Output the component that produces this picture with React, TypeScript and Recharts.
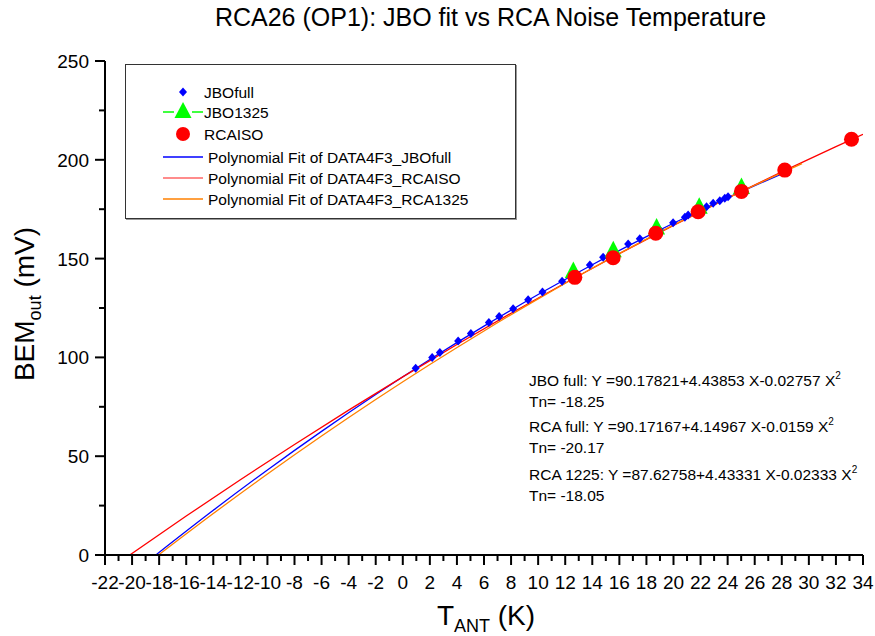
import React from "react";
import { ComposedChart, Scatter, Line, XAxis, YAxis } from "recharts";

const FONT = "Arial, 'Liberation Sans', Helvetica, sans-serif";

// measured points
const jboFull = [
  { x: 0.95, y: 94.5 },
  { x: 2.17, y: 99.9 },
  { x: 2.74, y: 102.5 },
  { x: 4.09, y: 108.3 },
  { x: 5.03, y: 112.1 },
  { x: 6.36, y: 117.7 },
  { x: 7.12, y: 120.7 },
  { x: 8.15, y: 124.6 },
  { x: 9.26, y: 129.2 },
  { x: 10.32, y: 133.1 },
  { x: 11.77, y: 138.5 },
  { x: 12.7, y: 142.3 },
  { x: 13.82, y: 146.8 },
  { x: 14.8, y: 150.7 },
  { x: 16.65, y: 157.4 },
  { x: 17.51, y: 160.1 },
  { x: 18.99, y: 164.5 },
  { x: 19.97, y: 168.2 },
  { x: 20.84, y: 170.9 },
  { x: 21.08, y: 172.1 },
  { x: 22.44, y: 176.3 },
  { x: 22.93, y: 178.0 },
  { x: 23.42, y: 179.3 },
  { x: 23.79, y: 180.5 },
  { x: 24.03, y: 181.3 },
];

const jbo1325 = [
  { x: 12.6, y: 143.5 },
  { x: 15.55, y: 154.0 },
  { x: 18.75, y: 165.5 },
  { x: 21.9, y: 176.0 },
  { x: 25.02, y: 186.0 },
];

const rcaIso = [
  { x: 12.71, y: 140.5 },
  { x: 15.54, y: 150.4 },
  { x: 18.69, y: 162.8 },
  { x: 21.82, y: 173.7 },
  { x: 25.02, y: 184.0 },
  { x: 28.22, y: 194.8 },
  { x: 33.15, y: 210.4 },
];

// polynomial fit curves
const fitJboFull = [
  { x: -18.25, y: 0 },
  { x: -14, y: 22.64 },
  { x: -10, y: 43.04 },
  { x: -6, y: 62.55 },
  { x: -2, y: 81.19 },
  { x: 2, y: 98.94 },
  { x: 6, y: 115.82 },
  { x: 10, y: 131.81 },
  { x: 14, y: 146.91 },
  { x: 18, y: 161.14 },
  { x: 22, y: 174.48 },
  { x: 26, y: 186.94 },
  { x: 28.3, y: 193.71 },
];

const fitRcaIso = [
  { x: -20.17, y: 0 },
  { x: -16, y: 19.71 },
  { x: -12, y: 38.09 },
  { x: -8, y: 55.96 },
  { x: -4, y: 73.32 },
  { x: 0, y: 90.17 },
  { x: 4, y: 106.52 },
  { x: 8, y: 122.35 },
  { x: 12, y: 137.68 },
  { x: 16, y: 152.5 },
  { x: 20, y: 166.8 },
  { x: 24, y: 180.61 },
  { x: 28, y: 193.9 },
  { x: 32, y: 206.68 },
  { x: 34, y: 212.88 },
];

const fitRca1325 = [
  { x: -18.05, y: 0 },
  { x: -14, y: 20.99 },
  { x: -10, y: 40.96 },
  { x: -6, y: 60.19 },
  { x: -2, y: 78.67 },
  { x: 2, y: 96.4 },
  { x: 6, y: 113.39 },
  { x: 10, y: 129.63 },
  { x: 14, y: 145.12 },
  { x: 18, y: 159.87 },
  { x: 22, y: 173.87 },
  { x: 26, y: 187.12 },
  { x: 29.5, y: 198.1 },
];

const xMajorTicks = [-22, -20, -18, -16, -14, -12, -10, -8, -6, -4, -2, 0, 2, 4, 6, 8, 10, 12, 14, 16, 18, 20, 22, 24, 26, 28, 30, 32, 34];
const yMajorTicks = [0, 50, 100, 150, 200, 250];
const xTicks = xMajorTicks.flatMap((v) => (v < 34 ? [v, v + 1] : [v]));
const yTicks = yMajorTicks.flatMap((v) => (v < 250 ? [v, v + 25] : [v]));

const fitLines = [
  "JBO full: Y =90.17821+4.43853 X-0.02757 X",
  "Tn= -18.25",
  "RCA full: Y =90.17167+4.14967 X-0.0159 X",
  "Tn= -20.17",
  "RCA 1225: Y =87.62758+4.43331 X-0.02333 X",
  "Tn= -18.05",
];

const BLUE = "#0000ff";
const GREEN = "#00ff00";
const RED = "#ff0000";
const ORANGE = "#ff8000";

const XTick = (props: any) => {
  const { x, y, payload } = props;
  const v = payload.value;
  const major = v % 2 === 0;
  return (
    <g>
      <line x1={x} x2={x} y1={y} y2={y + (major ? 10 : 6)} stroke="#000" strokeWidth={2} />
      {major && (
        <text x={x} y={y + 34} textAnchor="middle" fontSize={19} fontFamily={FONT} fill="#000">
          {v}
        </text>
      )}
    </g>
  );
};

const YTick = (props: any) => {
  const { x, y, payload } = props;
  const v = payload.value;
  const major = v % 50 === 0;
  return (
    <g>
      <line x1={x} x2={x - (major ? 10 : 6)} y1={y} y2={y} stroke="#000" strokeWidth={2} />
      {major && (
        <text x={x - 16} y={y + 7} textAnchor="end" fontSize={19} fontFamily={FONT} fill="#000">
          {v}
        </text>
      )}
    </g>
  );
};

const Diamond = (p: any) => (
  <polygon
    points={`${p.cx},${p.cy - 4.5} ${p.cx + 4},${p.cy} ${p.cx},${p.cy + 4.5} ${p.cx - 4},${p.cy}`}
    fill={BLUE}
  />
);
const Triangle = (p: any) => (
  <polygon
    points={`${p.cx},${p.cy - 10} ${p.cx - 8.5},${p.cy + 6.5} ${p.cx + 8.5},${p.cy + 6.5}`}
    fill={GREEN}
  />
);
const Dot = (p: any) => <circle cx={p.cx} cy={p.cy} r={7.5} fill={RED} />;

function LegendBox() {
  const rows = [
    { label: "JBOfull", y: 27 },
    { label: "JBO1325", y: 47 },
    { label: "RCAISO", y: 69 },
    { label: "Polynomial Fit of DATA4F3_JBOfull", y: 92 },
    { label: "Polynomial Fit of DATA4F3_RCAISO", y: 113 },
    { label: "Polynomial Fit of DATA4F3_RCA1325", y: 134 },
  ];
  return (
    <div
      style={{
        position: "absolute",
        left: 125,
        top: 64,
        width: 389,
        height: 153,
        border: "1.5px solid #333",
        boxShadow: "1px 1px 0 #999",
        background: "#fff",
      }}
    >
      <svg width={389} height={153} style={{ position: "absolute", left: 0, top: 0 }}>
        <polygon points="57,22.5 61,27 57,31.5 53,27" fill={BLUE} />
        <line x1={37} x2={48} y1={47} y2={47} stroke={GREEN} strokeWidth={1.5} />
        <line x1={66} x2={77} y1={47} y2={47} stroke={GREEN} strokeWidth={1.5} />
        <polygon points="57,37 48.5,53 65.5,53" fill={GREEN} />
        <circle cx={57} cy={69} r={7} fill={RED} />
        <line x1={37} x2={77} y1={92} y2={92} stroke={BLUE} strokeWidth={1.5} />
        <line x1={37} x2={77} y1={113} y2={113} stroke={RED} strokeWidth={1.5} opacity={0.6} />
        <line x1={37} x2={77} y1={134} y2={134} stroke={ORANGE} strokeWidth={1.5} />
        {rows.map((r, i) => (
          <text
            key={r.label}
            x={i < 3 ? 78 : 82}
            y={r.y + 5.5}
            fontSize={15.5}
            fontFamily={FONT}
            fill="#000"
          >
            {r.label}
          </text>
        ))}
      </svg>
    </div>
  );
}

export default function App() {
  const annTops = [380, 402, 426, 448, 474, 496];
  return (
    <div style={{ position: "absolute", left: 0, top: 0, width: 875, height: 636, background: "#fff", fontFamily: FONT }}>
      <ComposedChart width={875} height={636} margin={{ top: 61, right: 12, bottom: 41, left: 45 }}>
        <XAxis
          type="number"
          dataKey="x"
          domain={[-22, 34]}
          ticks={xTicks}
          interval={0}
          allowDataOverflow
          tickSize={0}
          tickMargin={0}
          tickLine={false}
          tick={<XTick />}
          axisLine={{ stroke: "#000", strokeWidth: 2 }}
          height={40}
        />
        <YAxis
          type="number"
          dataKey="y"
          domain={[0, 250]}
          ticks={yTicks}
          interval={0}
          allowDataOverflow
          tickSize={0}
          tickMargin={0}
          tickLine={false}
          tick={<YTick />}
          axisLine={{ stroke: "#000", strokeWidth: 2 }}
          width={60}
        />
        <Scatter data={jboFull} dataKey="y" shape={Diamond} isAnimationActive={false} />
        <Scatter data={jbo1325} dataKey="y" shape={Triangle} isAnimationActive={false} />
        <Scatter data={rcaIso} dataKey="y" shape={Dot} isAnimationActive={false} />
        <Line data={fitJboFull} dataKey="y" type="monotone" stroke={BLUE} strokeWidth={1.3} dot={false} isAnimationActive={false} />
        <Line data={fitRcaIso} dataKey="y" type="monotone" stroke={RED} strokeWidth={1.3} dot={false} isAnimationActive={false} />
        <Line data={fitRca1325} dataKey="y" type="monotone" stroke={ORANGE} strokeWidth={1.3} dot={false} isAnimationActive={false} />
      </ComposedChart>

      <div style={{ position: "absolute", left: 0, width: 981, top: 3, textAlign: "center", fontSize: 25, color: "#000", whiteSpace: "nowrap" }}>
        RCA26 (OP1): JBO fit vs RCA Noise Temperature
      </div>

      <div style={{ position: "absolute", left: 486, top: 618, transform: "translate(-50%, -50%)", fontSize: 28, whiteSpace: "nowrap", color: "#000" }}>
        T<sub style={{ fontSize: 18, verticalAlign: "-7px" }}>ANT</sub> (K)
      </div>

      <div style={{ position: "absolute", left: 27, top: 304, transform: "translate(-50%, -50%) rotate(-90deg)", fontSize: 28, whiteSpace: "nowrap", color: "#000" }}>
        BEM<sub style={{ fontSize: 18, verticalAlign: "-7px" }}>out</sub> (mV)
      </div>

      <LegendBox />

      {fitLines.map((t, i) => (
        <div
          key={t}
          style={{ position: "absolute", left: 529, top: annTops[i], transform: "translateY(-50%)", fontSize: 15.5, whiteSpace: "nowrap", color: "#000" }}
        >
          {t}
          {i % 2 === 0 && <sup style={{ fontSize: 10, verticalAlign: "7px" }}>2</sup>}
        </div>
      ))}
    </div>
  );
}
